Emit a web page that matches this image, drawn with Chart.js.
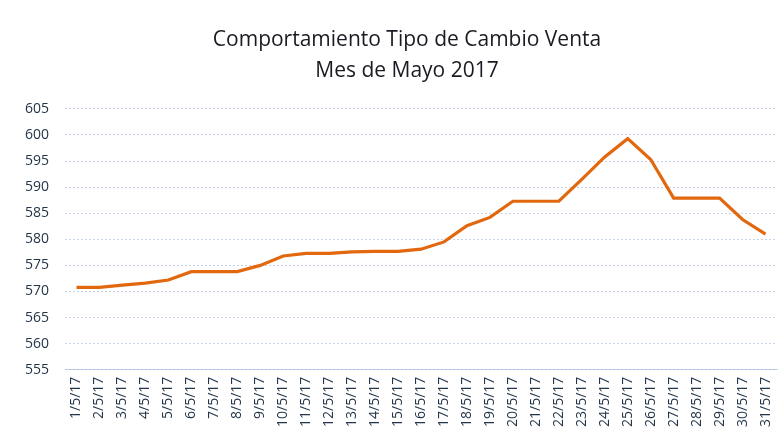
<!DOCTYPE html>
<html>
<head>
<meta charset="utf-8">
<script src="https://cdn.jsdelivr.net/npm/chart.js@4/dist/chart.umd.min.js"></script>
<style>
html,body{margin:0;padding:0;background:#fff}
#wrap{width:780px;height:437px}
</style>
</head>
<body>
<div id="wrap"><canvas id="grafico" width="780" height="437"></canvas></div>
<script>
// fechas del mes de mayo 2017
let labels = []
for(let d=1; d<=31; d++){ labels.push(d + "/5/17") }

// tipo de cambio venta
let valores = [
570.8, 570.8, 571.2, 571.6, 572.2, 573.8, 573.8, 573.8, 575.0, 576.8,
577.3, 577.3, 577.6, 577.7, 577.7, 578.1, 579.5, 582.6, 584.2, 587.3,
587.3, 587.3, 591.5, 595.8, 599.3, 595.3, 587.9, 587.9, 587.9, 583.8,
581.0
]

let titulo = ["Comportamiento Tipo de Cambio Venta", "Mes de Mayo 2017"]

let ejeMin = 555
let ejeMax = 605
let paso = 5

let gridColor = "rgba(150,172,222,0.55)"

// el titulo del original esta un poco corrido a la derecha
let moverTitulo = {
id:"moverTitulo",
afterLayout(chart){
if(chart.titleBlock){ chart.titleBlock.left += 28 }
}
}

new Chart(document.getElementById("grafico"),{
type:"line",
data:{
labels:labels,
datasets:[{
data:valores,
borderColor:"#e2680f",
borderWidth:3.2,
pointRadius:0,
tension:0,
fill:false
}]
},
options:{
responsive:false,
animation:false,
layout:{padding:{left:9,right:3,top:25,bottom:3}},
plugins:{
legend:{display:false},
tooltip:{enabled:false},
title:{
display:true,
text:titulo,
color:"#1a1a22",
font:{family:"Open Sans",size:21,weight:"normal",lineHeight:1.45},
padding:{top:0,bottom:23}
}
},
scales:{
x:{
offset:true,
afterFit:(s)=>{ s.paddingLeft = 0; s.paddingRight = 0 },
grid:{display:false,drawTicks:false},
border:{display:true,color:gridColor,dash:[2,2]},
ticks:{
autoSkip:false,
maxRotation:90,
minRotation:90,
padding:7,
color:"#24364a",
font:{family:"Open Sans",size:14}
}
},
y:{
min:ejeMin,
max:ejeMax,
ticks:{
stepSize:paso,
padding:16,
color:"#24364a",
font:{family:"Open Sans",size:14}
},
grid:{color:gridColor,drawTicks:false},
border:{display:false,dash:[2,2]}
}
}
},
plugins:[moverTitulo]
})
</script>
</body>
</html>
